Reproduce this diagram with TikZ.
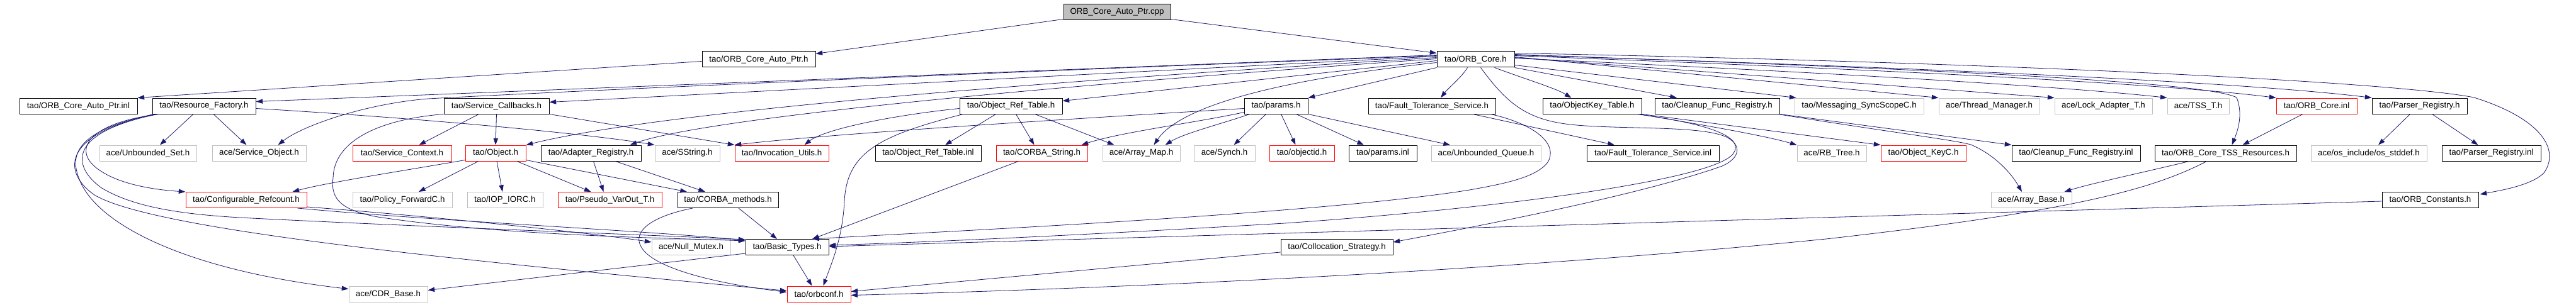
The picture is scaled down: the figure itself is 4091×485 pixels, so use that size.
\documentclass[tikz,border=0pt]{standalone}
\usepackage{fontspec}
\setmainfont{Liberation Sans}
\usetikzlibrary{arrows.meta,calc}
\definecolor{edgec}{HTML}{191970}
\definecolor{graybd}{HTML}{BFBFBF}
\newcommand\mknode[6]{\node[#2, minimum width={(#4-#3)*0.75pt}] (#1) at ({(#3+#4)/2},#5) {#6};}
\begin{document}
\begin{tikzpicture}[x=0.75pt,y=-0.75pt,
  box/.style={draw, line width=0.75pt, minimum height=18.75pt, inner sep=0pt, anchor=center, font=\fontsize{10}{12}\selectfont},
  nb/.style={box, draw=black},
  ng/.style={box, draw=graybd},
  nr/.style={box, draw=red},
  nroot/.style={box, draw=black, fill=graybd},
  e/.style={draw=edgec, line width=0.6pt, -{Triangle[length=8pt,width=5.5pt]}}]
\useasboundingbox (0,0) rectangle (4091,485);
% row 0
\mknode{cpp}{nroot}{1689}{1859}{19.5}{ORB\_Core\_Auto\_Ptr.cpp}
% row 1
\mknode{autoh}{nb}{1115}{1295}{94.5}{tao/ORB\_Core\_Auto\_Ptr.h}
\mknode{core}{nb}{2282}{2405}{94.5}{tao/ORB\_Core.h}
% row 2
\mknode{inl}{nb}{31}{218}{168.5}{tao/ORB\_Core\_Auto\_Ptr.inl}
\mknode{rf}{nb}{242}{406}{168.5}{tao/Resource\_Factory.h}
\mknode{scb}{nb}{705}{872}{168.5}{tao/Service\_Callbacks.h}
\mknode{ort}{nb}{1524}{1687}{168.5}{tao/Object\_Ref\_Table.h}
\mknode{params}{nb}{1976}{2077}{168.5}{tao/params.h}
\mknode{fts}{nb}{2173}{2375}{168.5}{tao/Fault\_Tolerance\_Service.h}
\mknode{okt}{nb}{2450}{2607}{168.5}{tao/ObjectKey\_Table.h}
\mknode{cfr}{nb}{2628}{2826}{168.5}{tao/Cleanup\_Func\_Registry.h}
\mknode{msc}{ng}{2850}{3055}{168.5}{tao/Messaging\_SyncScopeC.h}
\mknode{thm}{ng}{3079}{3239}{168.5}{ace/Thread\_Manager.h}
\mknode{lat}{ng}{3263}{3418}{168.5}{ace/Lock\_Adapter\_T.h}
\mknode{tss}{ng}{3442}{3540}{168.5}{ace/TSS\_T.h}
\mknode{cinl}{nr}{3615}{3743}{168.5}{tao/ORB\_Core.inl}
\mknode{preg}{nb}{3767}{3918}{168.5}{tao/Parser\_Registry.h}
% row 3
\mknode{uset}{ng}{158}{312}{243.5}{ace/Unbounded\_Set.h}
\mknode{sobj}{ng}{337}{486}{243.5}{ace/Service\_Object.h}
\mknode{sctx}{nr}{560}{717}{243.5}{tao/Service\_Context.h}
\mknode{obj}{nr}{739}{835}{243.5}{tao/Object.h}
\mknode{areg}{nb}{859}{1018}{243.5}{tao/Adapter\_Registry.h}
\mknode{sstr}{ng}{1040}{1143}{243.5}{ace/SString.h}
\mknode{iut}{nr}{1167}{1316}{243.5}{tao/Invocation\_Utils.h}
\mknode{ortinl}{nb}{1390}{1558}{243.5}{tao/Object\_Ref\_Table.inl}
\mknode{cstr}{nr}{1582}{1727}{243.5}{tao/CORBA\_String.h}
\mknode{amap}{ng}{1751}{1874}{243.5}{ace/Array\_Map.h}
\mknode{synch}{ng}{1896}{1993}{243.5}{ace/Synch.h}
\mknode{oid}{nr}{2016}{2119}{243.5}{tao/objectid.h}
\mknode{pinl}{nb}{2142}{2250}{243.5}{tao/params.inl}
\mknode{uq}{ng}{2273}{2447}{243.5}{ace/Unbounded\_Queue.h}
\mknode{ftsinl}{nb}{2520}{2730}{243.5}{tao/Fault\_Tolerance\_Service.inl}
\mknode{rbt}{ng}{2854}{2964}{243.5}{ace/RB\_Tree.h}
\mknode{okc}{nr}{2987}{3122}{243.5}{tao/Object\_KeyC.h}
\mknode{cfrinl}{nb}{3195}{3399}{243.5}{tao/Cleanup\_Func\_Registry.inl}
\mknode{tssr}{nb}{3422}{3647}{243.5}{tao/ORB\_Core\_TSS\_Resources.h}
\mknode{osstd}{ng}{3670}{3854}{243.5}{ace/os\_include/os\_stddef.h}
\mknode{pinl2}{nb}{3878}{4035}{243.5}{tao/Parser\_Registry.inl}
% row 4
\mknode{cref}{nr}{295}{487}{318}{tao/Configurable\_Refcount.h}
\mknode{pfwd}{ng}{560}{718}{318}{tao/Policy\_ForwardC.h}
\mknode{iop}{ng}{742}{862}{318}{tao/IOP\_IORC.h}
\mknode{pvo}{nr}{886}{1051}{318}{tao/Pseudo\_VarOut\_T.h}
\mknode{cm}{nb}{1076}{1236}{318}{tao/CORBA\_methods.h}
\mknode{abase}{ng}{3162}{3290}{318}{ace/Array\_Base.h}
\mknode{oconst}{nb}{3783}{3936}{318}{tao/ORB\_Constants.h}
% row 5
\mknode{nmut}{ng}{1035}{1160}{393}{ace/Null\_Mutex.h}
\mknode{bt}{nb}{1184}{1316}{393}{tao/Basic\_Types.h}
\mknode{colloc}{nb}{2034}{2212}{393}{tao/Collocation\_Strategy.h}
% row 6
\mknode{cdr}{ng}{554}{679}{467.5}{ace/CDR\_Base.h}
\mknode{oconf}{nr}{1250}{1351}{467.5}{tao/orbconf.h}

% ---- edges from the root
\draw[e] ($(cpp.south west)+(0,-2)$) -- ($(autoh.north east)+(0,4)$);
\draw[e] ($(cpp.south east)+(0,-2)$) -- ($(core.north west)+(0,3)$);
\draw[e] ($(autoh.west)+(0,3)$) -- (inl.north east);
% ---- ORB_Core.h, left fan
\draw[e] ($(core.west)+(0,-7)$) -- ($(rf.east)+(0,-7)$);
\draw[e] ($(core.west)+(0,-6)$) .. controls (1500,118) and (900,145) .. (680,157) .. controls (580,165) and (480,200) .. ($(sobj.north)+(30,0)$);
\draw[e] ($(core.west)+(0,-5)$) -- ($(scb.east)+(0,-6)$);
\draw[e] ($(core.west)+(0,-3)$) .. controls (1400,145) and (1000,190) .. (obj.north east);
\draw[e] ($(core.west)+(0,-1)$) .. controls (1500,148) and (1100,195) .. ($(areg.north)+(62,0)$);
\draw[e] ($(core.west)+(0,2)$) -- ($(ort.east)+(0,-8)$);
\draw[e] ($(core.west)+(0,5)$) .. controls (2000,130) and (1870,175) .. ($(amap.north)+(20,0)$);
\draw[e] (core.south west) -- (params.north east);
\draw[e] ($(core.south)+(-13,0)$) .. controls (2322,122) and (2300,140) .. ($(fts.north)+(14,0)$);
\draw[e] ($(core.south)+(30,0)$) .. controls (2420,125) and (2470,140) .. ($(okt.north)+(-33,0)$);
\draw[e] (core.south east) -- ($(cfr.north)+(-64,0)$);
% ---- ORB_Core.h, right fan
\draw[e] ($(core.east)+(0,9)$) -- ($(msc.north west)+(3,0)$);
\draw[e] ($(core.east)+(0,-4)$) -- (thm.north west);
\draw[e] ($(core.east)+(0,-3)$) -- (lat.north west);
\draw[e] ($(core.east)+(0,-2)$) .. controls (3000,120) and (3300,140) .. (tss.north west);
\draw[e] ($(core.east)+(0,-6)$) .. controls (3100,115) and (3450,135) .. (cinl.north west);
\draw[e] ($(core.east)+(0,-7)$) .. controls (3200,112) and (3600,135) .. (preg.north west);
\draw[e] ($(core.east)+(0,-8)$) .. controls (3000,108) and (3500,128) .. (3552,155) .. controls (3562,180) and (3555,205) .. ($(tssr.north)+(10,0)$);
\draw[e] ($(core.east)+(0,-10)$) .. controls (3200,100) and (3800,130) .. (3929,155) .. controls (4040,190) and (4065,240) .. (4040,275) .. controls (4020,295) and (3970,303) .. ($(oconst.north east)+(2,4)$);
\draw[e] ($(core.south)+(8,0)$) .. controls (2390,160) and (2420,188) .. (2486,197) .. controls (2560,207) and (2700,198) .. (2742,218) .. controls (2768,232) and (2762,252) .. (2735,264) .. controls (2620,305) and (2400,350) .. ($(colloc.east)+(0,-8)$);
% ---- ObjectKey_Table.h
\draw[e] ($(okt.south east)+(-8,0)$) .. controls (2700,195) and (2775,215) .. (2752,245) .. controls (2720,285) and (2400,330) .. (2040,355) .. controls (1700,375) and (1450,386) .. ($(bt.east)+(0,-3)$);
\draw[e] ($(okt.south east)+(-4,0)$) .. controls (2700,198) and (2800,215) .. (rbt.north west);
\draw[e] (okt.south east) -- (okc.north west);
% ---- Cleanup_Func_Registry.h
\draw[e] (cfr.south east) -- (cfrinl.north west);
\draw[e] ($(cfr.south east)+(-3,0)$) .. controls (3000,210) and (3100,222) .. (3130,230) .. controls (3165,245) and (3192,272) .. ($(abase.north)+(-15,0)$);
% ---- Fault_Tolerance_Service.h
\draw[e] ($(fts.south)+(65,0)$) -- ($(ftsinl.north)+(-61,0)$);
\draw[e] ($(fts.south east)+(-8,0)$) .. controls (2440,198) and (2475,230) .. (2458,258) .. controls (2440,282) and (2390,292) .. (2334,302) .. controls (2100,340) and (1500,368) .. ($(bt.north)+(40,0)$);
% ---- right-hand nodes
\draw[e] ($(oconst.west)+(0,2)$) -- ($(bt.east)+(0,-1)$);
\draw[e] ($(tssr.south)+(-30,0)$) .. controls (3420,300) and (3300,335) .. (2900,380) .. controls (2400,430) and (1800,458) .. ($(oconf.east)+(0,2)$);
\draw[e] ($(tssr.south)+(-58,0)$) .. controls (3400,275) and (3320,292) .. ($(abase.north east)+(-12,0)$);
\draw[e] ($(colloc.west)+(0,8)$) -- ($(oconf.east)+(0,-4)$);
\draw[e] ($(cinl.south)+(-22,0)$) -- ($(tssr.north)+(27,0)$);
\draw[e] ($(preg.south)+(-15,0)$) -- ($(osstd.north)+(15,0)$);
\draw[e] ($(preg.south)+(20,0)$) -- ($(pinl2.north)+(-21,0)$);
% ---- params.h
\draw[e] ($(params.west)+(0,4)$) .. controls (1600,195) and (1300,215) .. (iut.north west);
\draw[e] ($(params.west)+(0,10)$) .. controls (1900,195) and (1780,210) .. ($(cstr.north east)+(-10,0)$);
\draw[e] ($(params.south west)+(9,0)$) .. controls (1940,197) and (1880,212) .. ($(amap.north)+(38,0)$);
\draw[e] ($(params.south)+(-16,0)$) -- ($(synch.north)+(15,0)$);
\draw[e] ($(params.south)+(8,0)$) -- ($(oid.north)+(-10,0)$);
\draw[e] ($(params.south)+(32,0)$) -- ($(pinl.north)+(-30,0)$);
\draw[e] (params.south east) -- ($(uq.north)+(-57,0)$);
% ---- Object_Ref_Table.h
\draw[e] ($(ort.south)+(-24,0)$) -- ($(ortinl.north)+(27,0)$);
\draw[e] ($(ort.south)+(8,0)$) -- ($(cstr.north)+(-12,0)$);
\draw[e] ($(ort.south)+(38,0)$) -- ($(amap.north)+(-43,0)$);
\draw[e] ($(ort.west)+(0,4)$) .. controls (1420,183) and (1310,205) .. ($(iut.north)+(36,0)$);
\draw[e] ($(ort.south west)+(6,0)$) .. controls (1400,215) and (1345,240) .. (1341,320) .. controls (1338,380) and (1320,420) .. ($(oconf.north)+(7,0)$);
\draw[e] ($(cstr.south)+(-37,0)$) -- ($(bt.north)+(40,0)$);
% ---- Service_Callbacks.h
\draw[e] ($(scb.south)+(-28,0)$) -- ($(sctx.north)+(27,0)$);
\draw[e] (scb.south) -- (obj.north);
\draw[e] (scb.south east) -- (iut.north west);
\draw[e] (scb.south west) .. controls (600,190) and (530,225) .. (529,283) .. controls (524,318) and (545,335) .. (600,345) .. controls (800,375) and (1050,378) .. ($(bt.north west)+(0,3)$);
% ---- Resource_Factory.h
\draw[e] ($(rf.south)+(-17,0)$) -- ($(uset.north)+(19,0)$);
\draw[e] ($(rf.south)+(15,0)$) -- ($(sobj.north)+(-20,0)$);
\draw[e] ($(rf.east)+(0,4)$) .. controls (700,190) and (950,215) .. (sstr.north west);
\draw[e] ($(rf.south west)+(12,0)$) .. controls (140,195) and (110,240) .. (160,272) .. controls (195,295) and (250,302) .. (cref.north west);
\draw[e] ($(rf.south west)+(6,0)$) .. controls (100,210) and (115,260) .. (128,290) .. controls (160,360) and (300,430) .. ($(cdr.west)+(0,-8)$);
\draw[e] ($(rf.south west)+(9,0)$) .. controls (110,210) and (112,262) .. (160,298) .. controls (215,332) and (300,342) .. (400,347) .. controls (700,362) and (1000,372) .. ($(bt.north west)+(0,1)$);
\draw[e] ($(rf.south west)+(3,0)$) .. controls (95,215) and (100,275) .. (150,310) .. controls (250,370) and (800,420) .. ($(oconf.west)+(0,-5)$);
% ---- Configurable_Refcount.h
\draw[e] ($(cref.south east)+(0,-2)$) .. controls (700,345) and (950,372) .. ($(nmut.west)+(0,-8)$);
\draw[e] ($(cref.south east)+(-15,0)$) .. controls (700,352) and (1000,365) .. ($(bt.north west)+(0,2)$);
% ---- Object.h
\draw[e] ($(obj.west)+(0,11)$) .. controls (650,270) and (520,290) .. ($(cref.north east)+(-23,0)$);
\draw[e] ($(obj.south west)+(21,0)$) -- ($(pfwd.north)+(26,0)$);
\draw[e] ($(obj.south)+(2,0)$) -- ($(iop.north)+(-4,0)$);
\draw[e] ($(obj.south)+(34,0)$) -- ($(pvo.north)+(-30,0)$);
\draw[e] ($(obj.east)+(0,11)$) -- ($(cm.north)+(-65,0)$);
% ---- Adapter_Registry.h
\draw[e] ($(areg.south)+(4,0)$) -- ($(pvo.north)+(-10,0)$);
\draw[e] ($(areg.south)+(39,0)$) -- ($(cm.north)+(-36,0)$);
% ---- CORBA_methods.h
\draw[e] ($(cm.south)+(17,0)$) -- ($(bt.north)+(-16,0)$);
\draw[e] ($(cm.south)+(-56,0)$) .. controls (1030,345) and (1005,370) .. (1018,392) .. controls (1035,425) and (1130,450) .. ($(oconf.west)+(0,-3)$);
% ---- Basic_Types.h
\draw[e] ($(bt.south west)+(0,-3)$) -- ($(cdr.east)+(0,-6)$);
\draw[e] ($(bt.south)+(10,0)$) -- ($(oconf.north)+(-11,0)$);
\end{tikzpicture}
\end{document}
